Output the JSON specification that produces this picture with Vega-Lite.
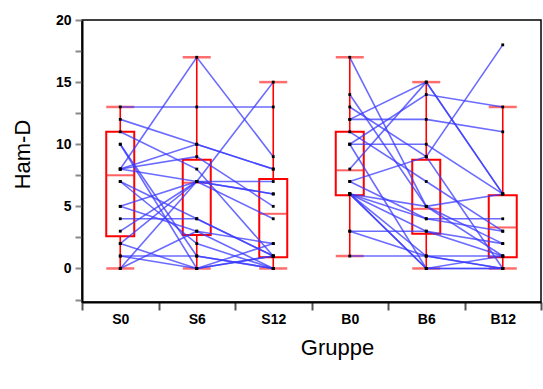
{
  "$schema": "https://vega.github.io/schema/vega-lite/v6.json",
  "width": 459,
  "height": 282,
  "autosize": {"type": "none"},
  "padding": {"left": 82, "top": 20, "right": 2, "bottom": 87},
  "background": "white",
  "config": {
    "view": {"stroke": "#000", "strokeWidth": 1.5},
    "font": "Liberation Sans"
  },
  "datasets": {
    "box": [
      {"grp": "S0", "mn": 0, "q1": 2.6, "md": 7.5, "q3": 11, "mx": 13},
      {"grp": "S6", "mn": 0, "q1": 2.7, "md": 6.9, "q3": 8.75, "mx": 17},
      {"grp": "S12", "mn": 0, "q1": 0.9, "md": 4.4, "q3": 7.2, "mx": 15},
      {"grp": "B0", "mn": 1, "q1": 5.9, "md": 7.9, "q3": 11, "mx": 17},
      {"grp": "B6", "mn": 0, "q1": 2.8, "md": 4.8, "q3": 8.75, "mx": 15},
      {"grp": "B12", "mn": 0, "q1": 0.9, "md": 3.3, "q3": 5.9, "mx": 13}
    ],
    "pat": [
      {"id": "s1", "S0": 13, "S6": 13, "S12": 13},
      {"id": "s2", "S0": 12, "S6": 10, "S12": 8},
      {"id": "s3", "S0": 11, "S6": 8, "S12": 1},
      {"id": "s4", "S0": 10, "S6": 1, "S12": 0},
      {"id": "s5", "S0": 10, "S6": 0, "S12": 1},
      {"id": "s6", "S0": 8, "S6": 17, "S12": 9},
      {"id": "s7", "S0": 8, "S6": 7, "S12": 6},
      {"id": "s8", "S0": 8, "S6": 9, "S12": 5},
      {"id": "s9", "S0": 7, "S6": 4, "S12": 1},
      {"id": "s10", "S0": 7, "S6": 2, "S12": 0},
      {"id": "s11", "S0": 5, "S6": 7, "S12": 15},
      {"id": "s12", "S0": 5, "S6": 3, "S12": 2},
      {"id": "s13", "S0": 4, "S6": 4, "S12": 1},
      {"id": "s14", "S0": 3, "S6": 7, "S12": 4},
      {"id": "s15", "S0": 2, "S6": 7, "S12": 7},
      {"id": "s16", "S0": 1, "S6": 0, "S12": 1},
      {"id": "s17", "S0": 1, "S6": 1, "S12": 0},
      {"id": "s18", "S0": 0, "S6": 7, "S12": 6},
      {"id": "s19", "S0": 0, "S6": 3, "S12": 0},
      {"id": "s20", "S0": 2, "S6": 0, "S12": 2},
      {"id": "s21", "S0": 8, "S6": 10, "S12": 8},
      {"id": "b1", "B0": 17, "B6": 5, "B12": 2},
      {"id": "b2", "B0": 14, "B6": 5, "B12": 1},
      {"id": "b3", "B0": 13, "B6": 9, "B12": 0},
      {"id": "b4", "B0": 12, "B6": 12, "B12": 11},
      {"id": "b5", "B0": 10, "B6": 10, "B12": 6},
      {"id": "b6", "B0": 10, "B6": 14, "B12": 13},
      {"id": "b7", "B0": 8, "B6": 15, "B12": 6},
      {"id": "b8", "B0": 7, "B6": 9, "B12": 18},
      {"id": "b9", "B0": 11, "B6": 7, "B12": 3},
      {"id": "b10", "B0": 6, "B6": 5, "B12": 6},
      {"id": "b11", "B0": 6, "B6": 4, "B12": 4},
      {"id": "b12", "B0": 6, "B6": 1, "B12": 0},
      {"id": "b13", "B0": 6, "B6": 0, "B12": 1},
      {"id": "b14", "B0": 3, "B6": 3, "B12": 2},
      {"id": "b15", "B0": 3, "B6": 1, "B12": 0},
      {"id": "b16", "B0": 1, "B6": 1, "B12": 1},
      {"id": "b17", "B0": 6, "B6": 3, "B12": 1},
      {"id": "b18", "B0": 10, "B6": 0, "B12": 0},
      {"id": "b19", "B0": 7, "B6": 4, "B12": 3},
      {"id": "b20", "B0": 12, "B6": 15, "B12": 6},
      {"id": "b21", "B0": 6, "B6": 0, "B12": 0}
    ]
  },
  "encoding": {
    "x": {
      "field": "grp",
      "type": "nominal",
      "title": "Gruppe",
      "scale": {"type": "band", "domain": ["S0", "S6", "S12", "B0", "B6", "B12"], "paddingInner": 0, "paddingOuter": 0},
      "axis": {
        "tickBand": "extent",
        "tickSize": 8,
        "tickColor": "#555",
        "tickWidth": 2,
        "labelAngle": 0,
        "labelFont": "Liberation Sans",
        "labelFontWeight": "bold",
        "labelFontSize": 14,
        "labelColor": "#000",
        "labelPadding": 2,
        "domainColor": "#000",
        "domainWidth": 2,
        "grid": false,
        "titleFont": "Liberation Sans",
        "titleFontSize": 22,
        "titleFontWeight": "normal",
        "titleColor": "#000",
        "titleX": 255,
        "titleY": 52,
        "titleAlign": "center",
        "titleBaseline": "alphabetic"
      }
    },
    "y": {
      "field": "v",
      "type": "quantitative",
      "title": "Ham-D",
      "scale": {"domain": [-2.7, 20], "nice": false, "zero": false},
      "axis": {
        "values": [-2.5, 0, 2.5, 5, 7.5, 10, 12.5, 15, 17.5, 20],
        "labelExpr": "datum.value % 5 == 0 ? datum.label : ''",
        "labelOverlap": false,
        "tickSize": 7,
        "tickColor": "#888",
        "tickWidth": 2,
        "domainColor": "#000",
        "domainWidth": 2,
        "grid": false,
        "labelFont": "Liberation Sans",
        "labelFontWeight": "bold",
        "labelFontSize": 14,
        "labelColor": "#000",
        "labelPadding": 4,
        "titleFont": "Liberation Sans",
        "titleFontSize": 22,
        "titleFontWeight": "normal",
        "titleColor": "#000",
        "titleAngle": -90,
        "titleX": -60,
        "titleY": 134,
        "titleAlign": "center",
        "titleBaseline": "middle"
      }
    }
  },
  "layer": [
    {
      "data": {"name": "box"},
      "mark": {"type": "rule", "color": "#ff0000", "strokeWidth": 1.6},
      "encoding": {
        "y": {"field": "mn", "type": "quantitative", "title": "Ham-D"},
        "y2": {"field": "q1"}
      }
    },
    {
      "data": {"name": "box"},
      "mark": {"type": "rule", "color": "#ff0000", "strokeWidth": 1.6},
      "encoding": {
        "y": {"field": "q3", "type": "quantitative", "title": "Ham-D"},
        "y2": {"field": "mx"}
      }
    },
    {
      "data": {"name": "box"},
      "mark": {"type": "bar", "fill": "transparent", "stroke": "#ff0000", "strokeWidth": 2, "width": 28},
      "encoding": {
        "y": {"field": "q1", "type": "quantitative", "title": "Ham-D"},
        "y2": {"field": "q3"}
      }
    },
    {
      "data": {"name": "box"},
      "mark": {"type": "tick", "color": "#ff2020", "size": 28, "thickness": 2},
      "encoding": {
        "y": {"field": "md", "type": "quantitative", "title": "Ham-D"}
      }
    },
    {
      "data": {"name": "box"},
      "mark": {"type": "tick", "color": "#ff3030", "size": 28, "thickness": 2.5},
      "encoding": {
        "y": {"field": "mx", "type": "quantitative", "title": "Ham-D"}
      }
    },
    {
      "data": {"name": "box"},
      "mark": {"type": "tick", "color": "#ff3030", "size": 28, "thickness": 2.5},
      "encoding": {
        "y": {"field": "mn", "type": "quantitative", "title": "Ham-D"}
      }
    },
    {
      "data": {"name": "pat"},
      "transform": [
        {"fold": ["S0", "S6", "S12", "B0", "B6", "B12"], "as": ["grp", "v"]},
        {"filter": "isValid(datum.v)"}
      ],
      "mark": {"type": "line", "color": "#3a3aff", "strokeWidth": 1.6, "opacity": 0.75},
      "encoding": {
        "detail": {"field": "id"},
        "order": {"value": null}
      }
    },
    {
      "data": {"name": "pat"},
      "transform": [
        {"fold": ["S0", "S6", "S12", "B0", "B6", "B12"], "as": ["grp", "v"]},
        {"filter": "isValid(datum.v)"}
      ],
      "mark": {"type": "square", "color": "#000", "size": 8, "opacity": 1}
    }
  ]
}
